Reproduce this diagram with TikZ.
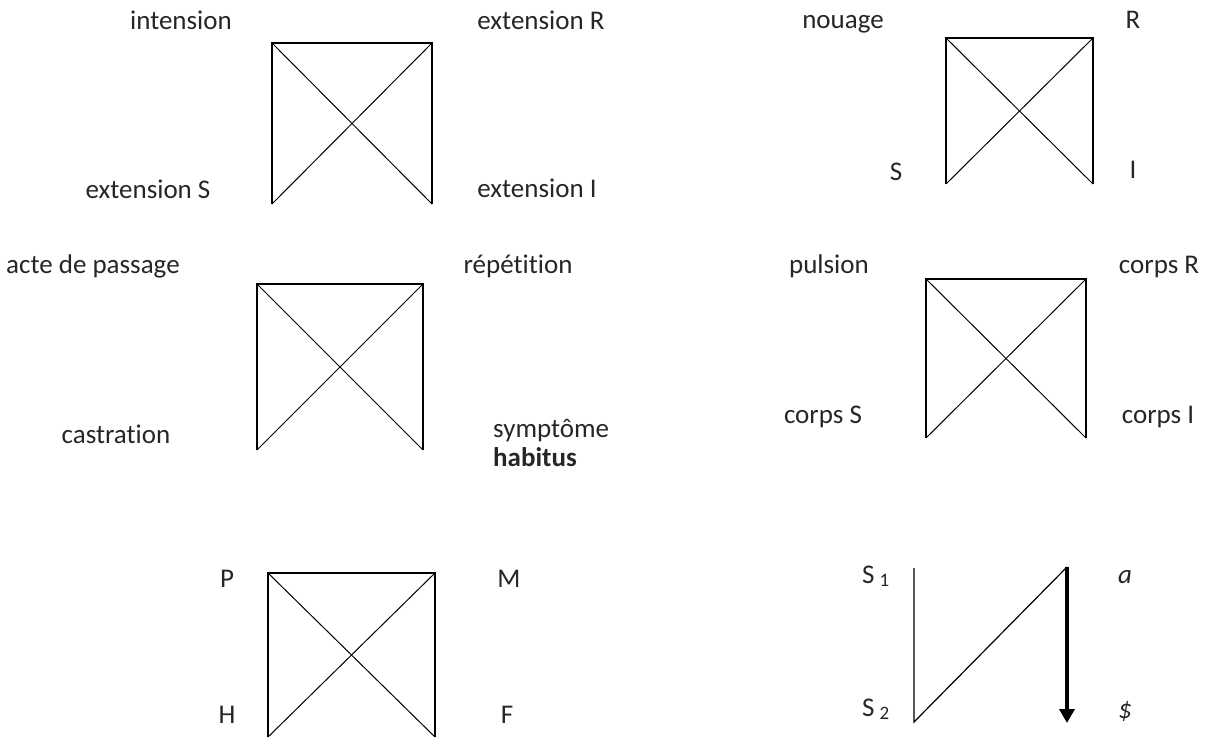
\documentclass[tikz,border=0pt]{standalone}
\usepackage{fontspec}
\setmainfont[Ligatures={NoCommon}]{Carlito}
\usetikzlibrary{arrows.meta}
\tikzset{
  lbl/.style={font=\fontsize{27}{30}\selectfont, inner sep=0pt, anchor=base, text=black!85},
  lblw/.style={lbl, anchor=base west},
  edge/.style={line width=1.6pt, line join=miter},
  diag/.style={line width=1.0pt},
  bigarrow/.style={line width=4.5pt, -{Triangle[length=14pt,width=15pt]}}
}
\newcommand{\xbox}[5]{%
  \coordinate (#1tl) at (#2,#3);
  \coordinate (#1tr) at (#4,#3);
  \coordinate (#1bl) at (#2,#5);
  \coordinate (#1br) at (#4,#5);
  \draw[edge] (#1bl) -- (#1tl) -- (#1tr) -- (#1br);
  \draw[diag] (#1tl) -- (#1br);
  \draw[diag] (#1tr) -- (#1bl);
}
\begin{document}
\begin{tikzpicture}[x=1pt,y=-1pt]
\useasboundingbox (0,0) rectangle (1215,739);
% box 1
\xbox{a}{272}{43}{432}{204}
\node[lbl] (t1) at (181,29) {intension};
\node[lbl] (t2) at (541,29) {extension R};
\node[lbl] (t3) at (148,198) {extension S};
\node[lbl] (t4) at (537,197) {extension I};
% box 2
\xbox{b}{946}{38}{1093}{184}
\node[lbl] (t5) at (843,28) {nouage};
\node[lbl] (t6) at (1133,28) {R};
\node[lbl] (t7) at (896,180) {S};
\node[lbl] (t8) at (1133,178) {I};
% box 3
\xbox{c}{257}{284}{423}{450}
\node[lblw] (t9) at (6,273) {acte de passage};
\node[lbl] (t10) at (518,273) {répétition};
\node[lbl] (t11) at (116,443) {castration};
\node[lblw] (t12) at (493,437) {symptôme};
\node[lblw,font=\fontsize{27}{30}\selectfont\bfseries] (t13) at (493,466) {habitus};
% box 4
\xbox{d}{926}{279}{1086}{438}
\node[lbl] (t14) at (829,273) {pulsion};
\node[lbl] (t15) at (1159,273) {corps R};
\node[lbl] (t16) at (823,423) {corps S};
\node[lbl] (t17) at (1158,423) {corps I};
% box 5
\xbox{e}{268}{573}{435}{737}
\node[lbl] (t18) at (227,587) {P};
\node[lbl] (t19) at (509,587) {M};
\node[lbl] (t20) at (227,723) {H};
\node[lbl] (t21) at (507,723) {F};
% discourse
\coordinate (s1) at (914,568);
\coordinate (s2) at (914,722);
\coordinate (atop) at (1067,567);
\coordinate (abot) at (1067,723);
\draw[diag,line width=1.2pt] (s1) -- (s2) -- (atop);
\draw[bigarrow] (atop) -- (abot);
\node[lblw] (t22) at (862,583) {S\hspace{5pt}{\fontsize{19}{20}\selectfont\raisebox{-3pt}{1}}};
\node[lbl] (t23) at (1125,583) {\textit{a}};
\node[lblw] (t24) at (862,716) {S\hspace{5pt}{\fontsize{19}{20}\selectfont\raisebox{-3pt}{2}}};
\node[lbl] (t25) at (1125,718) {\textit{\$}};
\end{tikzpicture}
\end{document}
